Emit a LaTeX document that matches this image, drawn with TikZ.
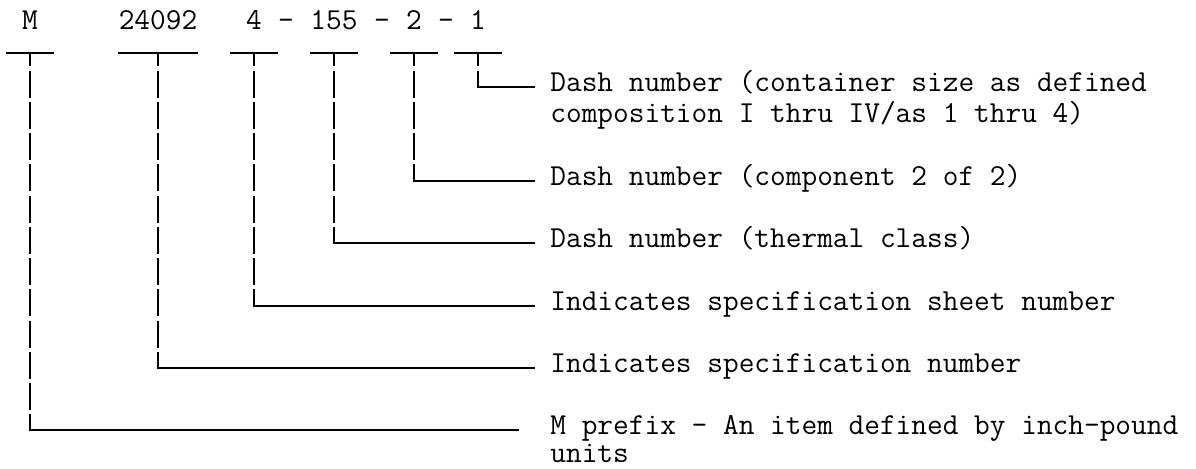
\documentclass[tikz,border=0pt]{standalone}
\usepackage{fontspec}
\begin{document}
\begin{tikzpicture}[
    x=0.5pt, y=-0.5pt,
    mono/.style={font=\ttfamily\fontsize{15.24pt}{15.625pt}\selectfont},
    part/.style={mono, inner sep=0pt, minimum width=24pt, text depth=11.75pt, anchor=base},
    dashsym/.style={mono, inner sep=0pt, anchor=base},
    note/.style={mono, inner sep=0pt, anchor=base west, align=left},
    bar/.style={line width=1pt},
    stem/.style={line width=1pt, dash pattern=on 13.5pt off 2.125pt, dash phase=6.75pt},
    lead/.style={line width=1pt, line cap=rect}
]
\useasboundingbox (0,0) rectangle (1196,468);

% ========== PART NUMBER ==========
\node[part] (pM) at (30,29) {M};
\node[part] (p24092) at (158,29) {24092};
\node[part] (p4) at (254,29) {4};
\node[dashsym] (d1) at (286,29) {-};
\node[part] (p155) at (334,29) {155};
\node[dashsym] (d2) at (382,29) {-};
\node[part] (p2) at (414,29) {2};
\node[dashsym] (d3) at (446,29) {-};
\node[part] (p1) at (478,29) {1};

% ========== EXPLANATIONS ==========
% two-line notes sit on their last baseline
\node[note] (l1) at (550,122.75) {Dash number (container size as defined\\composition I thru IV/as 1 thru 4)};
\node[note] (l2) at (550,185.25) {Dash number (component 2 of 2)};
\node[note] (l3) at (550,247.75) {Dash number (thermal class)};
\node[note] (l4) at (550,310.25) {Indicates specification sheet number};
\node[note] (l5) at (550,372.75) {Indicates specification number};
\node[note, text depth=0pt] (lM) at (550,462.5) {M prefix - An item defined by inch-pound\\[-1.5pt]units};

% ========== LEADERS ==========
\foreach \p/\l/\lift/\gap in {p1/l1/15.625pt/8pt, p2/l2/0pt/8pt, p155/l3/0pt/8pt, p4/l4/0pt/8pt, p24092/l5/0pt/8pt, pM/lM/14.125pt/16pt} {
    \coordinate (end-\l) at ([yshift=\lift]\l.mid west);
    \draw[bar] (\p.south west) -- (\p.south east);
    \draw[stem] (\p.south) -- (\p.south |- end-\l);
    \draw[lead, shorten >=\gap] (\p.south |- end-\l) -- (end-\l);
}

\end{tikzpicture}
\end{document}
